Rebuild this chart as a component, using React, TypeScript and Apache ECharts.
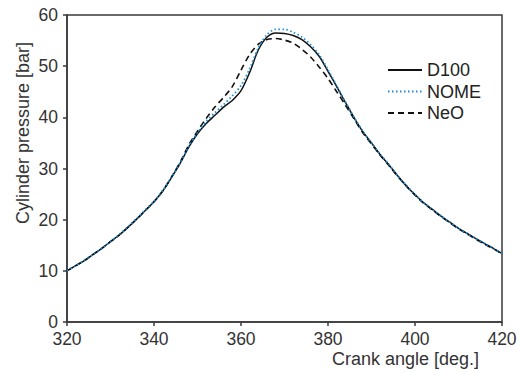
import React, { useEffect, useRef } from "react";
import * as echarts from "echarts";

const crankAngle = [
  320, 322, 324, 326, 328, 330, 332, 334, 336, 338, 340, 342, 344, 346, 348, 350,
  352, 354, 356, 358, 360, 362, 364, 366, 368, 370, 372, 374, 376, 378, 380, 382,
  384, 386, 388, 390, 392, 394, 396, 398, 400, 402, 404, 406, 408, 410, 412, 414,
  416, 418, 420,
];

const d100 = [
  10.0, 11.0, 12.0, 13.2, 14.4, 15.7, 17.0, 18.5, 20.1, 21.8, 23.5, 25.6, 28.2, 31.0, 34.2, 36.8,
  38.8, 40.4, 42.0, 43.3, 45.2, 48.8, 53.2, 55.7, 56.5, 56.4, 56.0, 55.2, 53.8, 51.9, 49.0, 46.0,
  42.9, 39.9, 37.2, 35.0, 32.7, 30.7, 28.6, 26.6, 24.9, 23.3, 22.0, 20.7, 19.5, 18.3, 17.3, 16.3,
  15.3, 14.4, 13.4,
];

const nome = [
  10.0, 11.0, 12.1, 13.2, 14.4, 15.7, 17.1, 18.6, 20.2, 21.9, 23.6, 25.7, 28.3, 31.1, 34.3, 37.0,
  39.2, 40.9, 42.5, 44.2, 46.2, 49.5, 53.6, 56.2, 57.2, 57.2, 56.6, 55.7, 54.2, 52.2, 49.3, 46.2,
  43.0, 40.0, 37.3, 35.0, 32.8, 30.8, 28.6, 26.7, 24.9, 23.3, 22.0, 20.7, 19.5, 18.3, 17.3, 16.3,
  15.3, 14.4, 13.4,
];

const neo = [
  10.0, 11.0, 12.0, 13.2, 14.4, 15.7, 17.0, 18.5, 20.1, 21.8, 23.5, 25.6, 28.3, 31.2, 34.6, 37.3,
  39.8, 42.0, 43.9, 46.0, 49.2, 52.3, 54.3, 55.2, 55.4, 55.1, 54.5, 53.3, 51.8, 49.8, 47.6, 45.0,
  42.4, 39.7, 37.0, 34.8, 32.6, 30.6, 28.5, 26.6, 24.8, 23.2, 21.9, 20.6, 19.4, 18.2, 17.2, 16.2,
  15.2, 14.3, 13.3,
];

const xTitle = "Crank angle [deg.]";
const yTitle = "Cylinder pressure [bar]";
const seriesNames = ["D100", "NOME", "NeO"];

const FONT = "'Liberation Sans', Arial, Helvetica, sans-serif";

export default function App() {
  const ref = useRef<HTMLDivElement>(null);

  useEffect(() => {
    if (!ref.current) return;
    const chart = echarts.init(ref.current, undefined, { renderer: "svg" });
    const pairs = (ys: number[]) => crankAngle.map((x, i) => [x, ys[i]]);

    chart.setOption({
      animation: false,
      backgroundColor: "#ffffff",
      textStyle: { fontFamily: FONT },
      grid: {
        left: 67,
        right: 20,
        top: 15,
        bottom: 52,
        show: true,
        borderColor: "#3a3a3a",
        borderWidth: 1.5,
        backgroundColor: "transparent",
      },
      legend: {
        orient: "vertical",
        left: 382,
        top: 56,
        itemWidth: 34,
        itemHeight: 10,
        itemGap: 3.5,
        itemStyle: { opacity: 0 },
        textStyle: { fontSize: 18, color: "#222", fontFamily: FONT },
        data: seriesNames,
      },
      xAxis: {
        type: "value",
        min: 320,
        max: 420,
        interval: 20,
        axisLine: { show: true, lineStyle: { color: "#3a3a3a", width: 1.5 } },
        axisTick: { show: true, length: 4, lineStyle: { color: "#3a3a3a", width: 1.5 } },
        axisLabel: { fontSize: 17.5, color: "#333", margin: 8, fontFamily: FONT },
        splitLine: { show: false },
      },
      yAxis: {
        type: "value",
        min: 0,
        max: 60,
        interval: 10,
        axisLine: { show: true, lineStyle: { color: "#3a3a3a", width: 1.5 } },
        axisTick: { show: true, length: 4, lineStyle: { color: "#3a3a3a", width: 1.5 } },
        axisLabel: { fontSize: 17.5, color: "#333", margin: 9, fontFamily: FONT },
        splitLine: { show: false },
      },
      graphic: [
        {
          type: "text",
          x: 479,
          y: 359,
          style: {
            text: xTitle,
            fontSize: 18,
            fontFamily: FONT,
            fill: "#333",
            align: "right",
            verticalAlign: "middle",
          },
        },
        {
          type: "text",
          x: 23,
          y: 133,
          rotation: Math.PI / 2,
          style: {
            text: yTitle,
            fontSize: 18,
            fontFamily: FONT,
            fill: "#333",
            align: "center",
            verticalAlign: "middle",
          },
        },
      ],
      series: [
        {
          name: seriesNames[0],
          type: "line",
          data: pairs(d100),
          symbol: "none",
          smooth: 0.3,
          z: 3,
          color: "#111111",
          lineStyle: { color: "#111111", width: 1.5, type: "solid" },
        },
        {
          name: seriesNames[1],
          type: "line",
          data: pairs(nome),
          symbol: "none",
          smooth: 0.3,
          z: 4,
          color: "#1a8fd6",
          lineStyle: { color: "#1a8fd6", width: 1.8, type: [1.5, 2.5] },
        },
        {
          name: seriesNames[2],
          type: "line",
          data: pairs(neo),
          symbol: "none",
          smooth: 0.3,
          z: 2,
          color: "#111111",
          lineStyle: { color: "#111111", width: 1.6, type: [6, 4] },
        },
      ],
    });

    return () => chart.dispose();
  }, []);

  return <div ref={ref} style={{ width: 522, height: 374, position: "absolute", left: 0, top: 0 }} />;
}
